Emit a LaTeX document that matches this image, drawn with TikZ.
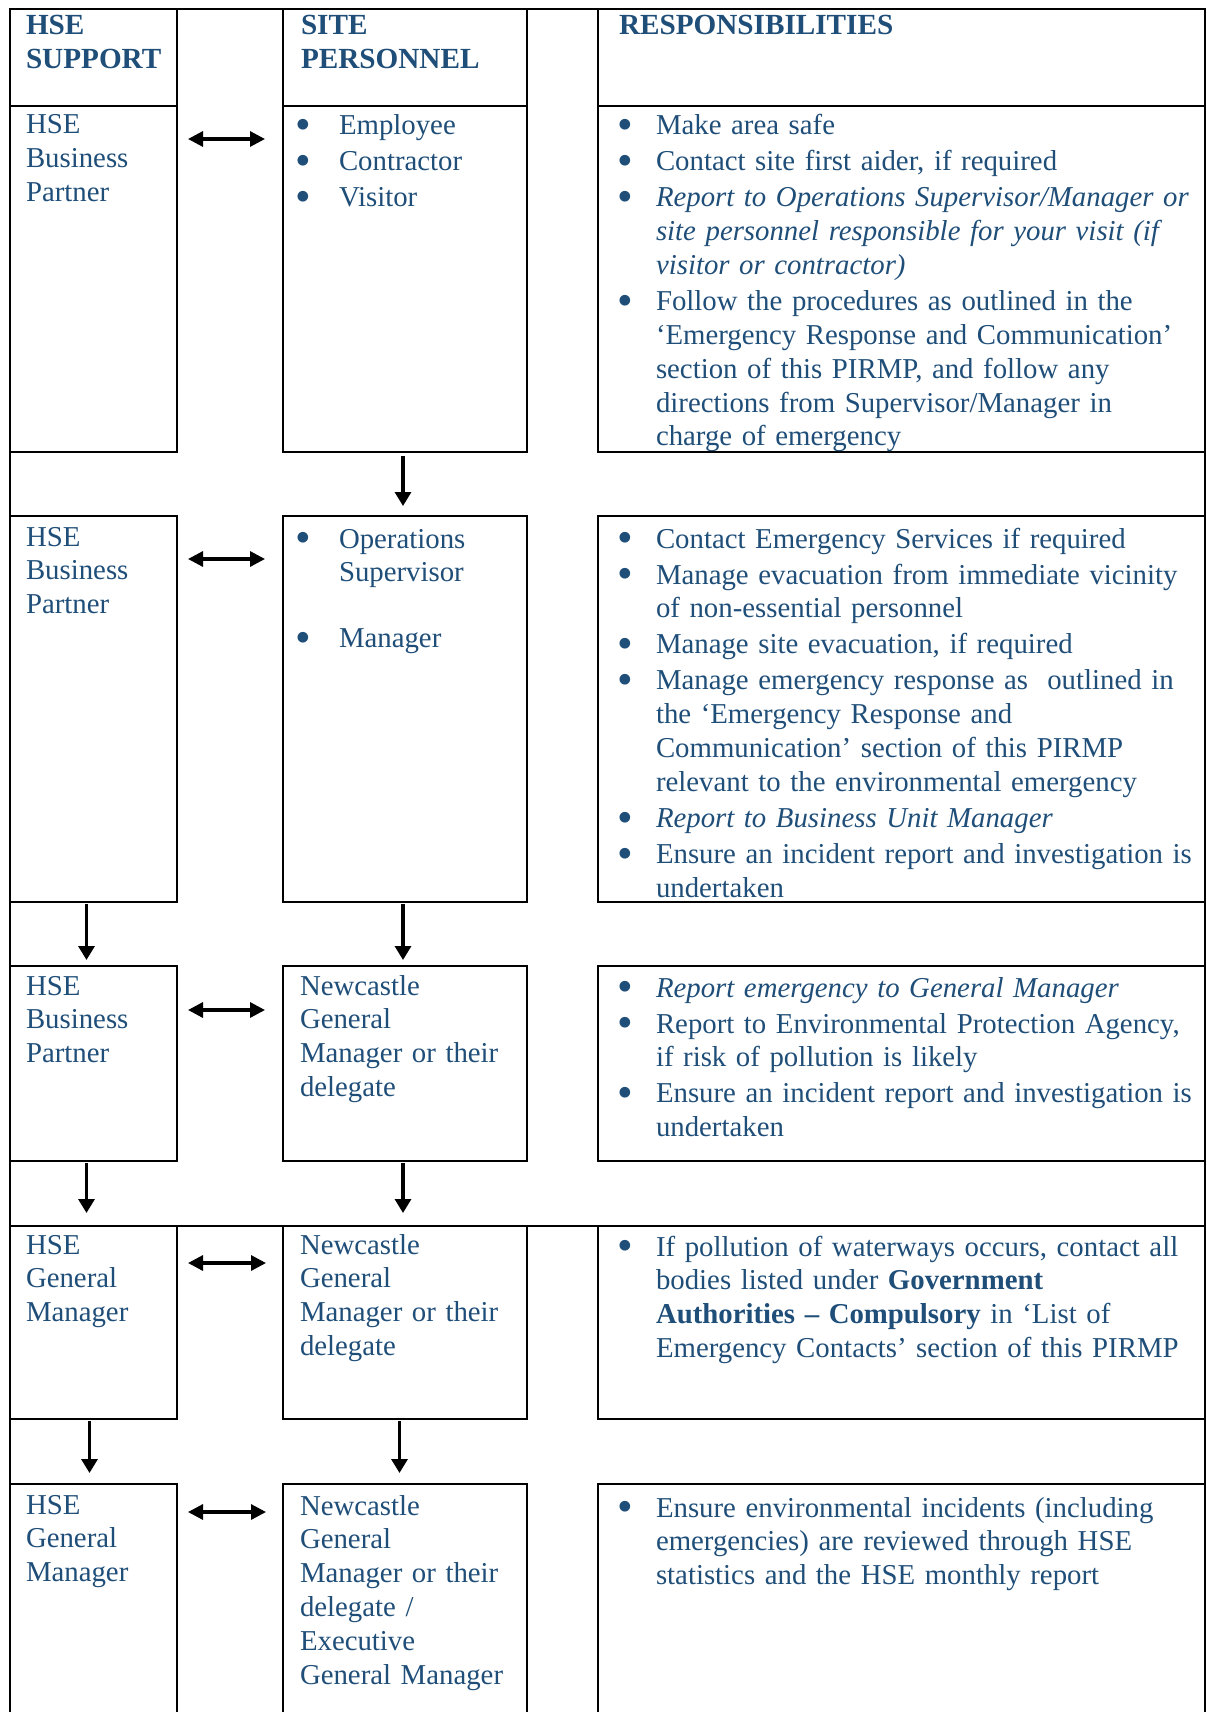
\documentclass[tikz,border=0pt]{standalone}
\usepackage{fontspec}
\usepackage{graphicx}
\setmainfont{Liberation Serif}
\usetikzlibrary{arrows.meta}
\definecolor{tblue}{RGB}{31,78,121}
\newcommand\bdot{\smash{\raisebox{-0.17em}{\scalebox{1.55}{\textbullet}}}}
\newcommand\bit[2]{\hangindent=#1\hangafter=1\noindent\makebox[#1][l]{\bdot}{#2}\par}
\newcommand\lstart{\setlength{\parskip}{1.1pt}}
\tikzset{
  cell/.style={draw, line width=1pt, rectangle, inner sep=0pt, outer sep=0pt, anchor=north west},
  txt/.style={anchor=base west, inner sep=0pt, outer sep=0pt, text=tblue,
    font=\fontsize{14.4}{16.9}\selectfont, align=left, text width=#1},
  txt/.default=150pt,
  hdr/.style={txt=#1, font=\fontsize{14.6}{16.9}\selectfont\bfseries},
  hdr/.default=150pt,
  harrow/.style={{Triangle[length=7.5pt,width=7.5pt]}-{Triangle[length=7.5pt,width=7.5pt]}, line width=1.6pt},
  varrow/.style={-{Triangle[length=7pt,width=8pt]}, line width=1.6pt}
}
\begin{document}
\begin{tikzpicture}[x=0.5pt,y=-0.5pt]
\useasboundingbox (0,0) rectangle (1206,1712);
\clip (0,0) rectangle (1206,1712);
\fill[white] (0,0) rectangle (1206,1712);
% outer frame
\node[cell, minimum width=597.5pt, minimum height=880pt] (frame) at (10,9) {};
% header
\node[cell, minimum width=83.5pt, minimum height=48.5pt] (h1) at (10,9) {};
\node[cell, minimum width=122pt, minimum height=48.5pt] (h2) at (283,9) {};
\node[cell, minimum width=303.5pt, minimum height=48.5pt] (h3) at (598,9) {};
% row 1
\node[cell, minimum width=83.5pt, minimum height=173pt] (a1) at (10,106) {};
\node[cell, minimum width=122pt, minimum height=173pt] (b1) at (283,106) {};
\node[cell, minimum width=303.5pt, minimum height=173pt] (c1) at (598,106) {};
% row 2
\node[cell, minimum width=83.5pt, minimum height=193pt] (a2) at (10,516) {};
\node[cell, minimum width=122pt, minimum height=193pt] (b2) at (283,516) {};
\node[cell, minimum width=303.5pt, minimum height=193pt] (c2) at (598,516) {};
% row 3
\node[cell, minimum width=83.5pt, minimum height=97.5pt] (a3) at (10,966) {};
\node[cell, minimum width=122pt, minimum height=97.5pt] (b3) at (283,966) {};
\node[cell, minimum width=303.5pt, minimum height=97.5pt] (c3) at (598,966) {};
% row 4
\node[cell, minimum width=83.5pt, minimum height=96.5pt] (a4) at (10,1226) {};
\node[cell, minimum width=122pt, minimum height=96.5pt] (b4) at (283,1226) {};
\node[cell, minimum width=303.5pt, minimum height=96.5pt] (c4) at (598,1226) {};
\draw[line width=1pt] (frame.west |- a4.north) -- (frame.east |- a4.north);
% row 5
\node[cell, minimum width=83.5pt, minimum height=130pt] (a5) at (10,1484) {};
\node[cell, minimum width=122pt, minimum height=130pt] (b5) at (283,1484) {};
\node[cell, minimum width=303.5pt, minimum height=130pt] (c5) at (598,1484) {};

% header texts
\node[hdr] (th1) at (26,35) {HSE\newline SUPPORT};
\node[hdr] (th2) at (301,35) {SITE\newline PERSONNEL};
\node[hdr=300pt] (th3) at (619,35) {RESPONSIBILITIES};

% row 1 texts
\node[txt] (ta1) at (26,134) {HSE\newline Business\newline Partner};
\node[txt] (tb1) at (295,135) {\lstart\bit{22pt}{Employee}\bit{22pt}{Contractor}\bit{22pt}{Visitor}};
\node[txt=330pt] (tc1) at (617,135) {\lstart
\bit{19.5pt}{Make area safe}
\bit{19.5pt}{Contact site first aider, if required}
\bit{19.5pt}{\itshape Report to Operations Supervisor/Manager or\newline site personnel responsible for your visit (if\newline visitor or contractor)}
\bit{19.5pt}{Follow the procedures as outlined in the\newline ‘Emergency Response and Communication’\newline section of this PIRMP, and follow any\newline directions from Supervisor/Manager in\newline charge of emergency}};

% row 2 texts
\node[txt] (ta2) at (26,546) {HSE\newline Business\newline Partner};
\node[txt] (tb2) at (295,548) {\lstart\bit{22pt}{Operations\newline Supervisor}\vspace{15pt}\bit{22pt}{Manager}};
\node[txt=330pt] (tc2) at (617,548) {\lstart
\bit{19.5pt}{Contact Emergency Services if required}
\bit{19.5pt}{Manage evacuation from immediate vicinity\newline of non-essential personnel}
\bit{19.5pt}{Manage site evacuation, if required}
\bit{19.5pt}{Manage emergency response as\ \ outlined in\newline the ‘Emergency Response and\newline Communication’ section of this PIRMP\newline relevant to the environmental emergency}
\bit{19.5pt}{\itshape Report to Business Unit Manager}
\bit{19.5pt}{Ensure an incident report and investigation is\newline undertaken}};

% row 3 texts
\node[txt] (ta3) at (26,995) {HSE\newline Business\newline Partner};
\node[txt] (tb3) at (300,995) {Newcastle\newline General\newline Manager or their\newline delegate};
\node[txt=330pt] (tc3) at (617,997) {\lstart
\bit{19.5pt}{\itshape Report emergency to General Manager}
\bit{19.5pt}{Report to Environmental Protection Agency,\newline if risk of pollution is likely}
\bit{19.5pt}{Ensure an incident report and investigation is\newline undertaken}};

% row 4 texts
\node[txt] (ta4) at (26,1254) {HSE\newline General\newline Manager};
\node[txt] (tb4) at (300,1254) {Newcastle\newline General\newline Manager or their\newline delegate};
\node[txt=330pt] (tc4) at (617,1256) {\lstart
\bit{19.5pt}{If pollution of waterways occurs, contact all\newline bodies listed under \textbf{Government}\newline \textbf{Authorities -- Compulsory} in ‘List of\newline Emergency Contacts’ section of this PIRMP}};

% row 5 texts
\node[txt] (ta5) at (26,1514) {HSE\newline General\newline Manager};
\node[txt] (tb5) at (300,1515) {Newcastle\newline General\newline Manager or their\newline delegate /\newline Executive\newline General Manager};
\node[txt=330pt] (tc5) at (617,1517) {\lstart
\bit{19.5pt}{Ensure environmental incidents (including\newline emergencies) are reviewed through HSE\newline statistics and the HSE monthly report}};

% horizontal arrows
\draw[harrow] ([shift={(11,33)}]a1.north east) -- ([shift={(-18,33)}]b1.north west);
\draw[harrow] ([shift={(11,43)}]a2.north east) -- ([shift={(-18,43)}]b2.north west);
\draw[harrow] ([shift={(11,44)}]a3.north east) -- ([shift={(-18,44)}]b3.north west);
\draw[harrow] ([shift={(11,37)}]a4.north east) -- ([shift={(-17,37)}]b4.north west);
\draw[harrow] ([shift={(11,28)}]a5.north east) -- ([shift={(-17,28)}]b5.north west);

% vertical arrows
\draw[varrow] ([shift={(-2,4)}]b1.south) -- ([shift={(-2,-10)}]b2.north);
\draw[varrow] ([shift={(-7,2)}]a2.south) -- ([shift={(-7,-6)}]a3.north);
\draw[varrow] ([shift={(-2,2)}]b2.south) -- ([shift={(-2,-6)}]b3.north);
\draw[varrow] ([shift={(-7,2)}]a3.south) -- ([shift={(-7,-13)}]a4.north);
\draw[varrow] ([shift={(-2,2)}]b3.south) -- ([shift={(-2,-13)}]b4.north);
\draw[varrow] ([shift={(-4,2)}]a4.south) -- ([shift={(-4,-11)}]a5.north);
\draw[varrow] ([shift={(-5.5,2)}]b4.south) -- ([shift={(-5.5,-11)}]b5.north);
\end{tikzpicture}
\end{document}
